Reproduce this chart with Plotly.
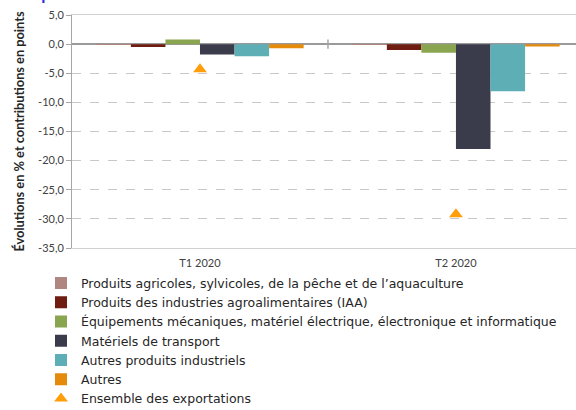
import plotly.graph_objects as go

categories = ["T1 2020", "T2 2020"]
series_names = [
    "Produits agricoles, sylvicoles, de la pêche et de l’aquaculture",
    "Produits des industries agroalimentaires (IAA)",
    "Équipements mécaniques, matériel électrique, électronique et informatique",
    "Matériels de transport",
    "Autres produits industriels",
    "Autres",
]
agri = [-0.1, -0.1]
iaa = [-0.5, -1.0]
equip = [0.8, -1.5]
transport = [-1.8, -18.0]
autres_ind = [-2.1, -8.1]
autres = [-0.7, -0.4]
ensemble = [-4.3, -29.2]
ensemble_name = "Ensemble des exportations"

y_tickvals = [5, 0, -5, -10, -15, -20, -25, -30, -35]
y_ticktext = ["5,0", "0,0", "-5,0", "-10,0", "-15,0", "-20,0", "-25,0", "-30,0", "-35,0"]

colors = ["#B08680", "#6E1D10", "#8AA54F", "#3B3C4B", "#5EAEB6", "#E68A0C"]
tri_color = "#FF9E0A"

FONT = "Lato"

fig = go.Figure()
for name, vals, col in zip(series_names, [agri, iaa, equip, transport, autres_ind, autres], colors):
    fig.add_trace(go.Bar(x=categories, y=vals, name=name, marker=dict(color=col, line=dict(width=0))))
fig.add_trace(go.Scatter(x=categories, y=ensemble, name=ensemble_name, mode="markers",
                         marker=dict(symbol="triangle-up", size=12, color=tri_color)))

# category separator tick on the zero axis
fig.add_shape(type="line", xref="x", yref="y", x0=0.5, x1=0.5, y0=-0.8, y1=0.8,
              line=dict(color="#A6A6A6", width=1.5))

# title, cut off at the top edge as in the reference
fig.add_annotation(text="<b>des produits</b>", xref="paper", yref="paper", x=-0.125, y=1.037,
                   xanchor="left", yanchor="bottom", showarrow=False,
                   font=dict(family=FONT, size=17, color="#2D2DE8"))

fig.update_layout(
    width=576, height=410,
    margin=dict(l=72, r=0, t=15, b=162),
    plot_bgcolor="white", paper_bgcolor="white",
    barmode="group", bargap=0.19, bargroupgap=0,
    font=dict(family=FONT, size=11, color="#404040"),
    showlegend=True,
    legend=dict(xref="paper", yref="container", x=-0.0615, y=0.3454, xanchor="left", yanchor="top",
                font=dict(family="DejaVu Sans", size=12.5, color="#262626"),
                traceorder="normal", itemwidth=30, tracegroupgap=0,
                bgcolor="rgba(0,0,0,0)"),
    xaxis=dict(range=[-0.5, 1.469], showgrid=False, ticks="", showline=True, mirror=True,
               linecolor="#D0D0D0", linewidth=1, tickfont=dict(family=FONT, size=11, color="#404040"),
               ticklabelstandoff=5, zeroline=False, fixedrange=True),
    yaxis=dict(range=[-35, 5], tickvals=y_tickvals, ticktext=y_ticktext,
               showgrid=True, gridcolor="#C8C8C8", griddash="dash", gridwidth=1,
               zeroline=True, zerolinecolor="#9A9A9A", zerolinewidth=1.5,
               showline=True, linecolor="#A6A6A6", linewidth=1, ticks="outside", ticklen=5,
               tickcolor="#A6A6A6",
               tickfont=dict(family=FONT, size=11, color="#404040"),
               title=dict(text="<b>Évolutions en % et contributions en points</b>",
                          font=dict(family=FONT, size=12.8, color="#262626"), standoff=10)),
)

fig.write_html("out.html", config={"displayModeBar": False},
               post_script="document.body.style.margin='0';")
